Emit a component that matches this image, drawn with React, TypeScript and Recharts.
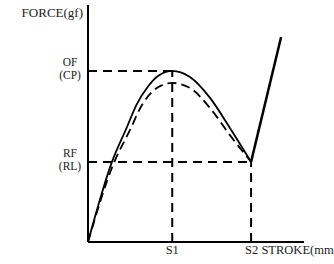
import React from "react";
import { LineChart, Line, XAxis, YAxis, ReferenceLine } from "recharts";

// key positions on the stroke / force axes (abstract units 0-100)
const S1 = 39;
const S2 = 75.5;
const OF = 72.2;
const RF = 33.8;

const xTicks = [S1, S2];
const yTicks = [RF, OF];
const xTickLabels: Record<number, string> = { [S1]: "S1", [S2]: "S2 STROKE(mm" };
const yTickLabels: Record<number, string[]> = {
  [OF]: ["OF", "(CP)"],
  [RF]: ["RF", "(RL)"],
};

// solid curve: pressing stroke
const solidCurve = [
  { x: 0, y: 0 },
  { x: 11.1, y: 33.8 },
  { x: 17.8, y: 48 },
  { x: 22.5, y: 58 },
  { x: 27.8, y: 65.6 },
  { x: 32.4, y: 70 },
  { x: 39, y: 72.2 },
  { x: 47.2, y: 69.6 },
  { x: 56.5, y: 60.8 },
  { x: 65.7, y: 48.1 },
  { x: 75.5, y: 33.8 },
];

// dashed curve: return stroke
const dashedCurve = [
  { x: 0, y: 0 },
  { x: 11.6, y: 32.5 },
  { x: 19.4, y: 47.2 },
  { x: 25, y: 57.8 },
  { x: 29.6, y: 63.3 },
  { x: 34.3, y: 66.2 },
  { x: 39, y: 67.1 },
  { x: 47.2, y: 65.0 },
  { x: 56.5, y: 56.5 },
  { x: 65.7, y: 45.1 },
  { x: 75.5, y: 33.8 },
];

// straight bottom-out segment after S2
const endLine = [
  { x: 75.5, y: 33.8 },
  { x: 89.4, y: 86.5 },
];

const FONT = "'Liberation Serif', serif";
const TEXT = "#222";
const DASH = "9 6";

const XTick = (props: any) => {
  const { x, y, payload } = props;
  const label = xTickLabels[payload.value] ?? "";
  const isS2 = payload.value === S2;
  return (
    <text
      x={isS2 ? x - 6 : x}
      y={y + 10}
      textAnchor={isS2 ? "start" : "middle"}
      fontFamily={FONT}
      fontSize={12.5}
      fill={TEXT}
    >
      {label}
    </text>
  );
};

const YTick = (props: any) => {
  const { x, y, payload } = props;
  const lines = yTickLabels[payload.value] ?? [];
  return (
    <g>
      <text x={x - 16} y={y - 5} textAnchor="middle" fontFamily={FONT} fontSize={11.5} fill={TEXT}>
        {lines[0]}
      </text>
      <text x={x - 16} y={y + 8} textAnchor="middle" fontFamily={FONT} fontSize={11.5} fill={TEXT}>
        {lines[1]}
      </text>
    </g>
  );
};

const ForceLabel = (props: any) => {
  const { viewBox } = props;
  return (
    <text
      x={viewBox.x + viewBox.width - 5}
      y={viewBox.y + 12}
      textAnchor="end"
      fontFamily={FONT}
      fontSize={13}
      fill={TEXT}
    >
      FORCE(gf)
    </text>
  );
};

export default function App() {
  return (
    <div style={{ position: "absolute", left: 0, top: 0, background: "#fff" }}>
      <LineChart width={334} height={264} margin={{ top: 5, right: 30, left: 0, bottom: 0 }}>
        <XAxis
          type="number"
          dataKey="x"
          domain={[0, 100]}
          ticks={xTicks}
          tick={<XTick />}
          tickLine={false}
          tickSize={0}
          height={22}
          axisLine={{ stroke: "#000", strokeWidth: 2 }}
          allowDuplicatedCategory={false}
        />
        <YAxis
          type="number"
          dataKey="y"
          domain={[0, 100]}
          ticks={yTicks}
          tick={<YTick />}
          tickLine={false}
          tickSize={0}
          width={88}
          axisLine={{ stroke: "#000", strokeWidth: 2 }}
          label={<ForceLabel />}
        />
        <ReferenceLine
          segment={[{ x: 0, y: OF }, { x: S1, y: OF }]}
          stroke="#000"
          strokeWidth={2}
          strokeDasharray={DASH}
        />
        <ReferenceLine
          segment={[{ x: S1, y: 0 }, { x: S1, y: OF }]}
          stroke="#000"
          strokeWidth={2}
          strokeDasharray={DASH}
        />
        <ReferenceLine
          segment={[{ x: 0, y: RF }, { x: S2, y: RF }]}
          stroke="#000"
          strokeWidth={2}
          strokeDasharray={DASH}
        />
        <ReferenceLine
          segment={[{ x: S2, y: 0 }, { x: S2, y: RF }]}
          stroke="#000"
          strokeWidth={2}
          strokeDasharray={DASH}
        />
        <Line
          data={solidCurve}
          dataKey="y"
          type="monotone"
          stroke="#000"
          strokeWidth={1.8}
          dot={false}
          isAnimationActive={false}
        />
        <Line
          data={dashedCurve}
          dataKey="y"
          type="monotone"
          stroke="#000"
          strokeWidth={1.8}
          strokeDasharray="9 5"
          dot={false}
          isAnimationActive={false}
        />
        <Line
          data={endLine}
          dataKey="y"
          type="linear"
          stroke="#000"
          strokeWidth={2.5}
          dot={false}
          isAnimationActive={false}
        />
      </LineChart>
    </div>
  );
}
